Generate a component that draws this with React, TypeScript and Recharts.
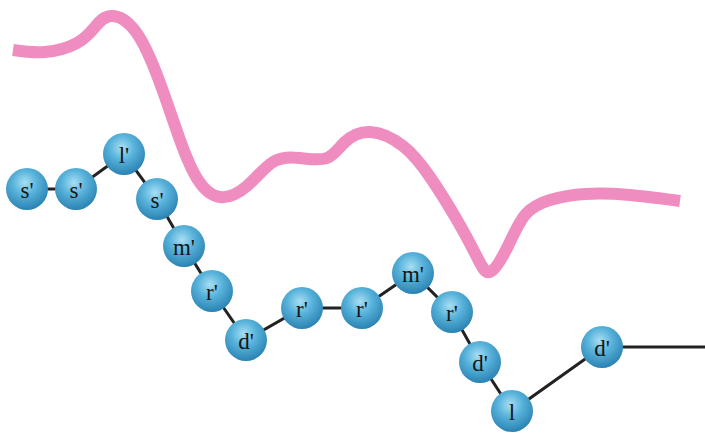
import { ComposedChart, Line, XAxis, YAxis } from "recharts";

// beads: horizontal position, height (screen units, top = 0) and syllable
const beadX = [27, 76, 124, 157, 184, 212, 246, 302, 362, 413, 452, 480, 512, 602, 705];
const beadY = [189, 189, 154, 199, 246, 291, 340, 308, 308, 273, 312, 362, 411, 347, 347];
const beadLabels = ["s'", "s'", "l'", "s'", "m'", "r'", "d'", "r'", "r'", "m'", "r'", "d'", "l", "d'", ""];

// pink contour
const pinkX = [13, 45, 77, 95, 111, 136, 160, 180, 198, 220, 247, 273, 300, 327, 345, 370, 403, 430, 457, 477, 490, 507, 525, 550, 585, 630, 680];
const pinkY = [50, 52, 43, 27, 16, 32, 83, 140, 180, 197, 186, 162, 158, 158, 142, 132, 146, 177, 220, 257, 272, 248, 215, 200, 194, 195, 201];

const beads = beadX.map((x, i) => ({ x, y: beadY[i], label: beadLabels[i] }));
const pink = pinkX.map((x, i) => ({ x, y: pinkY[i] }));

const Bead = (props: any) => {
  const { cx, cy, payload, index } = props;
  if (!payload.label) return <g key={`b-${index}`} />;
  return (
    <g key={`b-${index}`}>
      <circle cx={cx} cy={cy} r={21} fill="url(#beadFill)" />
      <text
        x={cx}
        y={cy + 1}
        textAnchor="middle"
        dominantBaseline="central"
        fontFamily="'Liberation Serif', 'DejaVu Serif', serif"
        fontSize={23}
        fill="#161616"
      >
        {payload.label}
      </text>
    </g>
  );
};

export default function App() {
  return (
    <div style={{ position: "absolute", left: 0, top: 0, background: "#fff" }}>
      <ComposedChart width={705} height={433} margin={{ top: 0, right: 0, bottom: 0, left: 0 }}>
        <defs>
          <radialGradient id="beadFill" cx="45%" cy="35%" r="65%">
            <stop offset="0%" stopColor="#a9def3" />
            <stop offset="45%" stopColor="#58b3db" />
            <stop offset="100%" stopColor="#2a82b2" />
          </radialGradient>
        </defs>
        <XAxis type="number" dataKey="x" domain={[0, 705]} hide allowDataOverflow />
        <YAxis type="number" domain={[0, 433]} reversed hide allowDataOverflow />
        <Line
          data={pink}
          dataKey="y"
          type="natural"
          stroke="#f08dc0"
          strokeWidth={12}
          dot={false}
          activeDot={false}
          isAnimationActive={false}
        />
        <Line
          data={beads}
          dataKey="y"
          type="linear"
          stroke="#222"
          strokeWidth={3}
          dot={Bead}
          activeDot={false}
          isAnimationActive={false}
        />
      </ComposedChart>
    </div>
  );
}
